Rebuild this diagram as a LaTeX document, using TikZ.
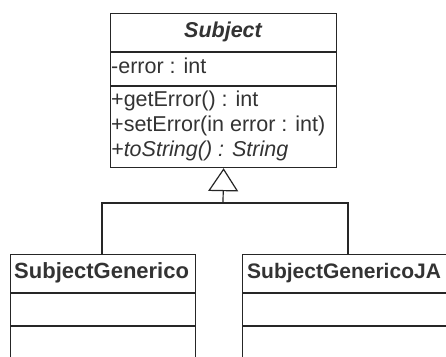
\documentclass[tikz,border=0pt]{standalone}
\usepackage{fontspec}
\setmainfont{Liberation Sans}
\usetikzlibrary{arrows.meta,positioning}

\tikzset{
	umlbox/.style={draw=black!85,line width=1.2pt,anchor=north west,inner sep=0pt},
	umlline/.style={draw=black!85,line width=1.2pt},
	umltxt/.style={anchor=west,inner sep=0pt,text=black!80,font=\fontsize{21.5}{25}\selectfont},
	umlgen/.style={-{Triangle[open,width=30pt,length=23pt,line width=1.2pt]}}
}

\begin{document}
\begin{tikzpicture}[x=1pt,y=-1pt]
	\useasboundingbox (0,0) rectangle (446,356);
	\clip (0,0) rectangle (446,356);
	\fill[white] (0,0) rectangle (446,356);
	% superclass
	\node[umlbox,minimum width=226pt,minimum height=154pt] (subject) at (110,13) {};
	\draw[umlline] (110,52) -- (336,52);
	\draw[umlline] (110,86) -- (336,86);
	\node[umltxt,anchor=center,font=\fontsize{21.5}{25}\selectfont\bfseries\itshape] (subjname) at (223,32) {Subject};
	\node[umltxt] (attr) at (111,66) {-error : int};
	\node[umltxt] (op1) at (111,101) {+getError() : int};
	\node[umltxt] (op2) at (111,126) {+setError(in error : int)};
	\node[umltxt] (op3) at (111,151) {\itshape +toString() : String};
	% subclasses
	\node[umlbox,minimum width=185pt,minimum height=130pt] (gen) at (10,254) {};
	\draw[umlline] (10,293) -- (195,293);
	\draw[umlline] (10,326) -- (195,326);
	\node[umltxt,font=\fontsize{22}{25}\selectfont\bfseries] (genname) at (14,273) {SubjectGenerico};
	\node[umlbox,minimum width=230pt,minimum height=130pt] (genja) at (242,254) {};
	\draw[umlline] (242,293) -- (472,293);
	\draw[umlline] (242,326) -- (472,326);
	\node[umltxt,font=\fontsize{21}{25}\selectfont\bfseries] (genjaname) at (247,273) {SubjectGenericoJA};
	% generalization
	\coordinate (joint) at (223,203);
	\coordinate (ltop) at (102,254);
	\coordinate (rtop) at (348,254);
	\draw[umlline] (ltop) |- (joint) -| (rtop);
	\draw[umlline,umlgen] (joint) -- (subject.south);
\end{tikzpicture}
\end{document}
